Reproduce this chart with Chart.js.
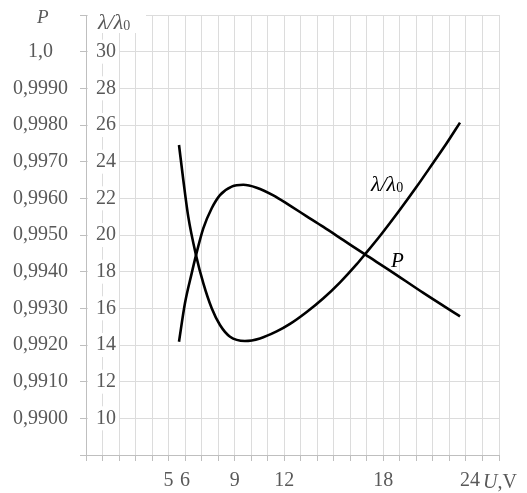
<!DOCTYPE html>
<html>
<head>
<meta charset="utf-8">
<script src="https://cdn.jsdelivr.net/npm/chart.js@4.4.1/dist/chart.umd.min.js"></script>
<style>
body{margin:0;background:#fff;}
canvas{display:block;}
</style>
</head>
<body>
<canvas id="chart" width="527" height="493"></canvas>
<script>
// λ/λ0 against U (V)
const uLambda=[5.63,5.89,6.19,6.66,7.10,7.61,8.11,8.72,9.62,10.53,11.54,12.35,13.36,14.37,15.38,16.39,16.89,17.9,18.9,20.02,21.02,21.83,22.64];
const lambdaRatio=[24.91,23.0,21.0,18.9,17.37,16.0,15.09,14.45,14.22,14.36,14.74,15.15,15.8,16.55,17.42,18.41,18.95,20.07,21.25,22.64,23.94,25.0,26.13];

// P against U (V)
const uP=[5.63,5.99,6.40,6.66,7.10,7.61,8.11,8.82,9.52,10.33,11.34,12.35,13.36,14.37,15.58,16.89,18.4,20.42,22.64];
const pValues=[0.99209,0.99314,0.99396,0.99445,0.99518,0.99573,0.99609,0.99632,0.99637,0.99629,0.99608,0.9958,0.99551,0.99522,0.99486,0.99447,0.99403,0.99342,0.99278];

// tick labels
const xTickValues=[5,6,9,12,18,24];
const xTickLabels=['5','6','9','12','18','24'];
const lambdaTickValues=[10,12,14,16,18,20,22,24,26,28,30];
const lambdaTickLabels=['10','12','14','16','18','20','22','24','26','28','30'];
const pTickValues=[0.990,0.991,0.992,0.993,0.994,0.995,0.996,0.997,0.998,0.999,1.000];
const pTickLabels=['0,9900','0,9910','0,9920','0,9930','0,9940','0,9950','0,9960','0,9970','0,9980','0,9990','1,0'];

const FONT="'Liberation Serif','Times New Roman',serif";
const GRAY='#595959';

function drawParts(ctx,parts,x,y,color){
    ctx.fillStyle=color;
    ctx.textBaseline='alphabetic';
    ctx.textAlign='left';
    parts.forEach(p=>{
        ctx.font=(p.italic?'italic ':'')+p.size+'px '+FONT;
        ctx.fillText(p.t,x,y+(p.dy||0));
        x+=ctx.measureText(p.t).width;
    });
}

const textPlugin={
    id:'texts',
    afterDraw(chart){
        const ctx=chart.ctx;
        const a=chart.chartArea;
        const sx=chart.scales.x,sy=chart.scales.y,sp=chart.scales.yP;
        ctx.save();
        // titles of the two value axes
        ctx.fillStyle='#fff';
        ctx.fillRect(a.left+2,0,58,a.top+18);
        drawParts(ctx,[{t:'λ/λ',italic:true,size:22},{t:'0',size:14,dy:1}],a.left+12,a.top+14,GRAY);
        drawParts(ctx,[{t:'P',italic:true,size:19}],37,a.top+8,GRAY);
        // unit of the U axis
        drawParts(ctx,[{t:'U',italic:true,size:20},{t:',V',size:20}],a.right-16,sx.top+33,GRAY);
        // curve labels
        drawParts(ctx,[{t:'λ/λ',italic:true,size:22},{t:'0',size:14,dy:1}],sx.getPixelForValue(17.25),sy.getPixelForValue(22.4),'#000');
        drawParts(ctx,[{t:'P',italic:true,size:21}],sx.getPixelForValue(18.46),sp.getPixelForValue(0.99414),'#000');
        ctx.restore();
    }
};

Chart.defaults.font.family=FONT;
Chart.defaults.font.size=20;
Chart.defaults.color=GRAY;

new Chart(document.getElementById('chart'),{
    type:'line',
    data:{
        datasets:[{
            label:'λ/λ0',
            data:uLambda.map((u,i)=>({x:u,y:lambdaRatio[i]})),
            yAxisID:'y',
            borderColor:'#000',
            borderWidth:2.6,
            pointRadius:0,
            fill:false,
            cubicInterpolationMode:'monotone'
        },{
            label:'P',
            data:uP.map((u,i)=>({x:u,y:pValues[i]})),
            yAxisID:'yP',
            borderColor:'#000',
            borderWidth:2.6,
            pointRadius:0,
            fill:false,
            cubicInterpolationMode:'monotone'
        }]
    },
    options:{
        responsive:false,
        animation:false,
        layout:{padding:{top:15,right:28,left:0,bottom:0}},
        plugins:{legend:{display:false},tooltip:{enabled:false}},
        scales:{
            x:{
                type:'linear',
                min:0,
                max:25,
                grid:{color:'#dcdcdc',tickColor:'#bfbfbf',tickLength:6},
                border:{color:'#bfbfbf'},
                ticks:{
                    stepSize:1,
                    autoSkip:false,
                    maxRotation:0,
                    padding:8,
                    callback:function(value){
                        const i=xTickValues.indexOf(value);
                        if(i<0) return '';
                        // the 24 label sits a bit to the left in the original
                        return value===24 ? xTickLabels[i]+'     ' : xTickLabels[i];
                    }
                },
                afterFit:function(s){ s.height=38; s.paddingLeft=0; s.paddingRight=0; }
            },
            y:{
                type:'linear',
                position:'left',
                weight:0,
                min:8,
                max:32,
                grid:{color:'#dcdcdc',tickColor:'#bfbfbf',tickLength:6},
                border:{color:'#bfbfbf'},
                ticks:{
                    stepSize:2,
                    mirror:true,
                    padding:10,
                    z:1,
                    showLabelBackdrop:true,
                    backdropColor:function(c){ return lambdaTickValues.indexOf(c.tick.value)>=0 ? '#fff' : 'rgba(255,255,255,0)'; },
                    backdropPadding:{left:8,right:3,top:0,bottom:0},
                    callback:function(value){
                        const i=lambdaTickValues.indexOf(value);
                        return i<0 ? '' : lambdaTickLabels[i];
                    }
                },
                afterFit:function(s){ s.width=6; s.paddingTop=0; s.paddingBottom=0; }
            },
            yP:{
                type:'linear',
                position:'left',
                weight:1,
                min:0.989,
                max:1.001,
                grid:{display:false,drawTicks:false},
                border:{display:false},
                ticks:{
                    crossAlign:'center',
                    padding:12,
                    callback:function(value){
                        const i=pTickValues.findIndex(v=>Math.abs(v-value)<1e-7);
                        return i<0 ? '' : pTickLabels[i];
                    }
                },
                afterBuildTicks:function(s){ s.ticks=pTickValues.map(v=>({value:v})); },
                afterFit:function(s){ s.width=80; s.paddingTop=0; s.paddingBottom=0; }
            }
        }
    },
    plugins:[textPlugin]
});
</script>
</body>
</html>
